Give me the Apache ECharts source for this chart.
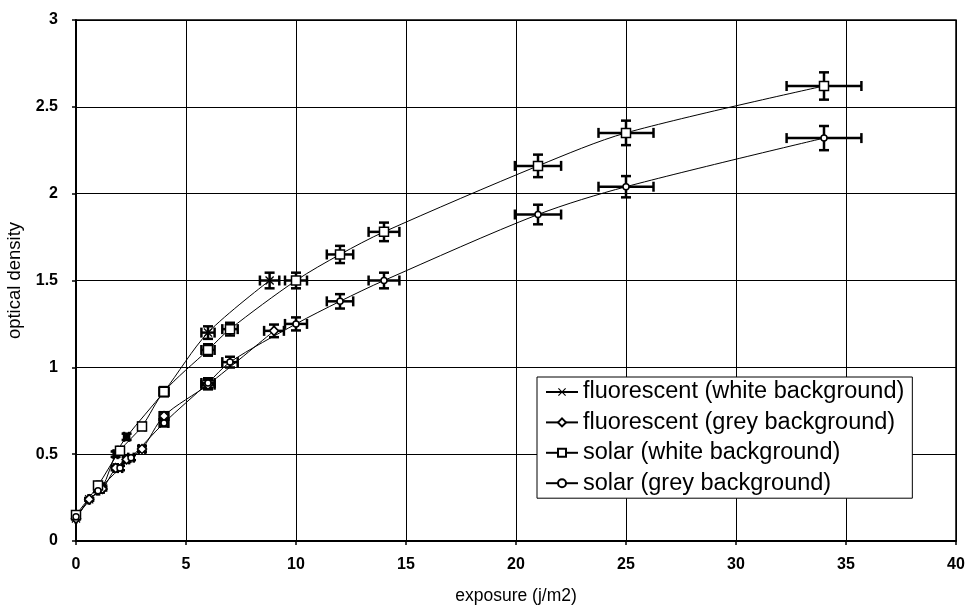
<!DOCTYPE html>
<html>
<head>
<meta charset="utf-8">
<title>optical density vs exposure</title>
<script src="https://cdn.jsdelivr.net/npm/echarts@6/dist/echarts.min.js"></script>
<style>
  html, body { margin: 0; padding: 0; background: #fff; }
  #chart { width: 973px; height: 607px; }
</style>
</head>
<body>
<div id="chart"></div>
<script>
// series names (legend order)
const seriesNames = [
  'fluorescent (white background)',
  'fluorescent (grey background)',
  'solar (white background)',
  'solar (grey background)'
];

// values
const fluorWhiteX = [0, 0.6, 1.2, 1.8, 2.3, 4, 6, 8.8];
const fluorWhiteY = [0.13, 0.24, 0.31, 0.5, 0.6, 0.86, 1.2, 1.5];
const fluorGreyX = [0, 0.6, 1.2, 1.8, 2.3, 3, 4, 6, 9];
const fluorGreyY = [0.13, 0.24, 0.3, 0.42, 0.47, 0.53, 0.72, 0.9, 1.21];
const solarWhiteX = [0, 1, 2, 3, 4, 6, 7, 10, 12, 14, 21, 25, 34];
const solarWhiteY = [0.15, 0.32, 0.52, 0.66, 0.86, 1.1, 1.22, 1.5, 1.65, 1.78, 2.16, 2.35, 2.62];
const solarGreyX = [0, 1, 2, 2.5, 4, 6, 7, 10, 12, 14, 21, 25, 34];
const solarGreyY = [0.14, 0.29, 0.42, 0.48, 0.68, 0.91, 1.03, 1.25, 1.38, 1.5, 1.88, 2.04, 2.32];

// percentage error bars (as set in the original spreadsheet chart)
const xErrPct = 0.05;
const yErrPct = 0.03;

const crossPath = 'path://M0,1L1,0L5,4L9,0L10,1L6,5L10,9L9,10L5,6L1,10L0,9L4,5Z';

function pairs(xs, ys) {
  return xs.map((x, i) => [x, ys[i]]);
}
function errData(xs, ys) {
  return xs.map((x, i) => [x, ys[i], x * xErrPct, ys[i] * yErrPct]);
}

const font = '"Liberation Sans", Arial, Helvetica, sans-serif';

function lineSeries(name, xs, ys, symbol, size) {
  return {
    name: name,
    type: 'line',
    data: pairs(xs, ys),
    smooth: 0.3,
    symbol: symbol,
    symbolSize: size,
    z: 3,
    lineStyle: { color: '#000', width: 1 },
    itemStyle: {
      color: symbol === crossPath ? '#000' : '#fff',
      borderColor: '#000',
      borderWidth: symbol === crossPath ? 0 : 1.5
    },
    emphasis: { disabled: true }
  };
}

function errSeries(xs, ys) {
  return {
    type: 'custom',
    data: errData(xs, ys),
    z: 2,
    silent: true,
    renderItem: function (params, api) {
      const x = api.value(0), y = api.value(1);
      const ex = api.value(2), ey = api.value(3);
      const l = api.coord([x - ex, y]);
      const r = api.coord([x + ex, y]);
      const t = api.coord([x, y + ey]);
      const b = api.coord([x, y - ey]);
      const cap = 5;
      const st = { stroke: '#000', lineWidth: 2.5 };
      const seg = (x1, y1, x2, y2) => ({
        type: 'line', shape: { x1: x1, y1: y1, x2: x2, y2: y2 }, style: st
      });
      return {
        type: 'group',
        children: [
          seg(l[0], l[1], r[0], r[1]),
          seg(t[0], t[1], b[0], b[1]),
          seg(l[0], l[1] - cap, l[0], l[1] + cap),
          seg(r[0], r[1] - cap, r[0], r[1] + cap),
          seg(t[0] - cap, t[1], t[0] + cap, t[1]),
          seg(b[0] - cap, b[1], b[0] + cap, b[1])
        ]
      };
    }
  };
}

const chart = echarts.init(document.getElementById('chart'));
const option = {
  backgroundColor: '#fff',
  animation: false,
  textStyle: { fontFamily: font, color: '#000' },
  grid: {
    left: 76, right: 17, top: 20, bottom: 66,
    outerBoundsMode: 'none',
    containLabel: false,
    show: true, borderColor: '#000', borderWidth: 1.5
  },
  xAxis: {
    type: 'value',
    min: 0, max: 40, interval: 5,
    name: 'exposure (j/m2)',
    nameLocation: 'middle',
    nameGap: 46,
    nameTextStyle: { fontSize: 17.5, color: '#000', fontFamily: font },
    axisLine: { show: true, onZero: false, lineStyle: { color: '#000', width: 2 } },
    axisTick: { show: true, length: 4, lineStyle: { color: '#000', width: 1.5 } },
    axisLabel: { fontSize: 16, fontWeight: 'bold', color: '#000', margin: 16, fontFamily: font },
    splitLine: { show: true, lineStyle: { color: '#000', width: 1 } }
  },
  yAxis: {
    type: 'value',
    min: 0, max: 3, interval: 0.5,
    name: 'optical density',
    nameLocation: 'middle',
    nameGap: 47,
    nameTextStyle: { fontSize: 18.5, color: '#000', fontFamily: font },
    axisLine: { show: true, onZero: false, lineStyle: { color: '#000', width: 2 } },
    axisTick: { show: true, length: 4, lineStyle: { color: '#000', width: 1.5 } },
    axisLabel: { fontSize: 16, fontWeight: 'bold', color: '#000', margin: 18, fontFamily: font },
    splitLine: { show: true, lineStyle: { color: '#000', width: 1 } }
  },
  legend: {
    data: seriesNames,
    orient: 'vertical',
    left: 537,
    top: 377,
    padding: [3, 8, 3, 8],
    itemWidth: 32,
    itemHeight: 10,
    itemGap: 6.4,
    backgroundColor: '#fff',
    borderColor: '#000',
    borderWidth: 1,
    borderRadius: 0,
    selectedMode: false,
    textStyle: { fontSize: 23.5, lineHeight: 22, color: '#000', fontFamily: font }
  },
  series: [
    errSeries(fluorWhiteX, fluorWhiteY),
    errSeries(fluorGreyX, fluorGreyY),
    errSeries(solarWhiteX, solarWhiteY),
    errSeries(solarGreyX, solarGreyY),
    lineSeries(seriesNames[0], fluorWhiteX, fluorWhiteY, crossPath, 9),
    lineSeries(seriesNames[1], fluorGreyX, fluorGreyY, 'diamond', 9),
    lineSeries(seriesNames[2], solarWhiteX, solarWhiteY, 'rect', 9),
    lineSeries(seriesNames[3], solarGreyX, solarGreyY, 'circle', 6)
  ]
};
chart.setOption(option);
</script>
</body>
</html>
